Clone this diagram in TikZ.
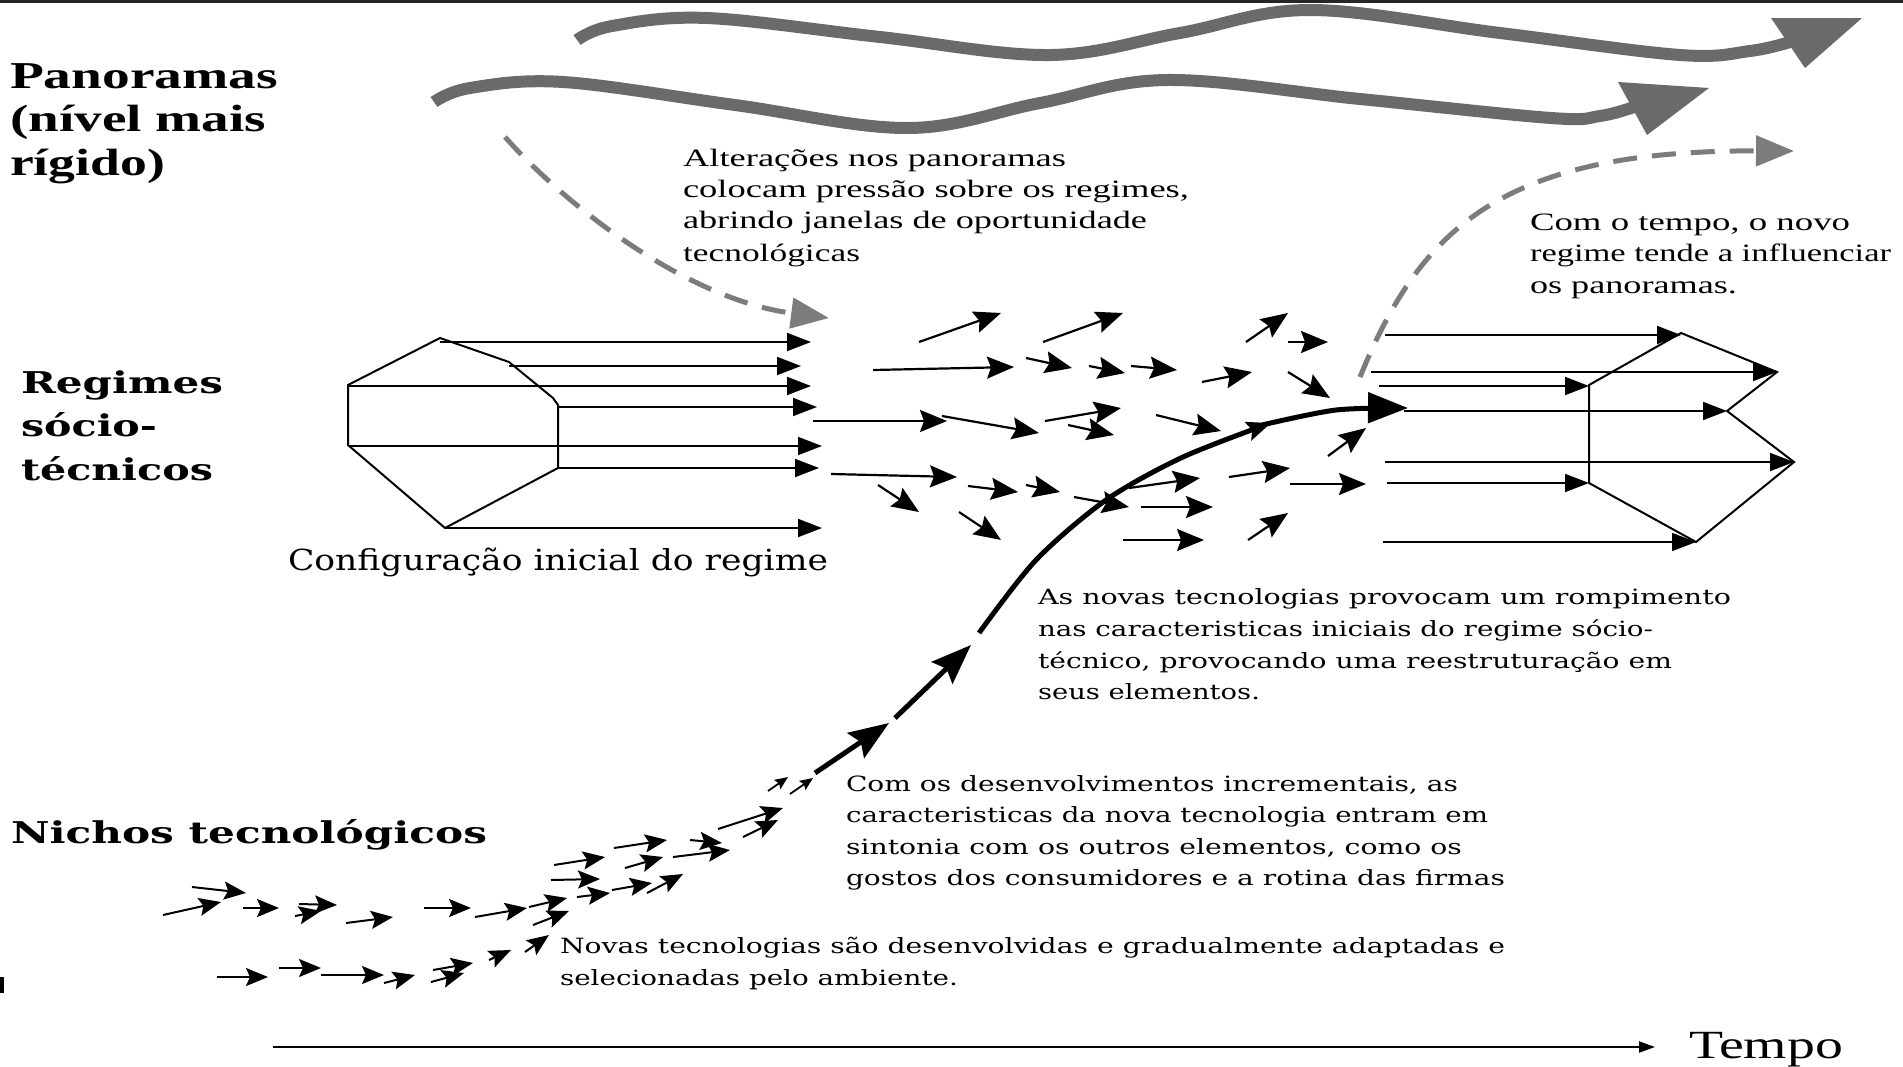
\documentclass[tikz,border=0pt]{standalone}
\usepackage{fontspec}
\usepackage{graphicx}
\setmainfont{Liberation Serif}
\newfontfamily\tmfont{Liberation Serif}
\newfontfamily\bkfont{DejaVu Serif}
\usetikzlibrary{arrows.meta}
\definecolor{wavegray}{HTML}{6A6A6A}
\definecolor{dashgray}{HTML}{7C7C7C}
\definecolor{linegray}{HTML}{2E2E2E}
\newcommand{\fitw}[2]{\resizebox{#1pt}{\height}{#2}}
\begin{document}
\begin{tikzpicture}[x=1pt,y=-1pt,
  txt/.style={anchor=base west, inner sep=0pt, outer sep=0pt},
  headA/.style={txt, font=\tmfont\fontsize{38}{39}\selectfont\bfseries},
  headB/.style={txt, font=\bkfont\fontsize{30}{32}\selectfont\bfseries},
  tms/.style={txt, font=\tmfont\fontsize{25}{27}\selectfont},
  bk/.style={txt, font=\bkfont\fontsize{21}{23}\selectfont},
  wave/.style={line width=12pt, draw=wavegray},
  gdash/.style={line width=5pt, draw=dashgray, dash pattern=on 24pt off 15pt, -{Triangle[length=38pt,width=30pt]}, dashgray},
  parrow/.style={line width=1.8pt, draw=linegray, -{Triangle[length=24pt,width=18pt]}, black},
  poly/.style={line width=2pt, draw=black, line join=miter},
  farrow/.style={line width=2.2pt, draw=black, -{Stealth[length=27pt,width=22pt,inset=4pt]}},
  narrow/.style={line width=2pt, draw=black, -{Stealth[length=22pt,width=18pt,inset=4pt]}},
  sarrow/.style={line width=1.8pt, draw=black, -{Stealth[length=13pt,width=11pt,inset=2pt]}},
  scurve/.style={line width=5pt, draw=black}
]
\useasboundingbox (0,0) rectangle (1903,1066);
\fill[white] (0,0) rectangle (1903,1066);

% top border and left mark
\draw[line width=3pt, black!85] (0,1.5) -- (1903,1.5);
\fill[black] (0,977) rectangle (4,993);

% ---------- landscape waves ----------
\draw[wave] plot[smooth, tension=0.6] coordinates {(577,40) (612,26) (707,18) (880,37) (1050,55) (1180,33) (1310,10) (1500,33) (1680,55) (1750,51) (1790,42)};
\fill[wavegray] (1771,18) -- (1862,18) -- (1805,68) -- cycle;
\draw[wave] plot[smooth, tension=0.6] coordinates {(434,102) (470,88) (563,82) (735,105) (908,128) (1040,103) (1167,80) (1360,99) (1551,118) (1600,116) (1634,107)};
\fill[wavegray] (1618,82) -- (1709,88) -- (1647,135) -- cycle;

% ---------- dashed pressure arrows ----------
\coordinate (dl0) at (505,137);
\coordinate (dl1) at (829,318);
\draw[gdash] (dl0) .. controls (570,210) and (690,300) .. (dl1);
\coordinate (dr0) at (1360,377);
\coordinate (dr1) at (1794,151);
\draw[gdash] (dr0) .. controls (1420,230) and (1500,150) .. (dr1);

% ---------- initial regime polygon ----------
\draw[poly] (440,338) -- (509,362) -- (553,398) -- (558,405) -- (558,468) -- (445,528) -- (348,445) -- (348,385) -- cycle;
\draw[parrow] (440,342) -- (811,342);
\draw[parrow] (509,366) -- (801,366);
\draw[parrow] (348,386) -- (811,386);
\draw[parrow] (558,407) -- (817,407);
\draw[parrow] (348,446) -- (822,446);
\draw[parrow] (558,468) -- (819,468);
\draw[parrow] (445,528) -- (822,528);

% ---------- new regime polygon ----------
\draw[poly] (1589,385) -- (1681,333) -- (1777,372) -- (1727,411) -- (1794,462) -- (1696,542) -- (1589,483) -- cycle;
\draw[parrow] (1385,335) -- (1681,335);
\draw[parrow] (1371,372) -- (1777,372);
\draw[parrow] (1379,386) -- (1589,386);
\draw[parrow] (1404,411) -- (1727,411);
\draw[parrow] (1385,462) -- (1794,462);
\draw[parrow] (1387,483) -- (1589,483);
\draw[parrow] (1383,542) -- (1696,542);

% ---------- field arrows in the regime ----------
\foreach \a/\b/\c/\d in {
  919/342/1001/313, 1043/342/1123/313, 873/370/1014/367, 1026/358/1072/368,
  1089/366/1125/373, 1131/366/1177/370, 1202/382/1252/372, 1246/342/1288/313,
  1288/342/1328/342, 1288/372/1330/398, 813/421/947/421, 942/416/1039/433,
  1045/421/1121/408, 1068/425/1114/435, 1156/415/1221/431, 1328/456/1366/428,
  831/474/957/477, 878/485/919/512, 968/486/1018/492, 1026/485/1060/492,
  1074/497/1129/507, 1129/488/1200/478, 1141/507/1213/507, 1229/477/1290/468,
  1290/484/1366/484, 959/512/1001/540, 1123/540/1204/540, 1248/540/1288/513}
  \draw[farrow] (\a,\b) -- (\c,\d);

% ---------- niche arrows ----------
\foreach \a/\b/\c/\d in {
  192/887/246/893, 163/915/221/902, 243/908/279/908, 299/904/337/905,
  295/916/321/911, 346/923/393/917, 424/908/471/908, 475/917/527/908,
  529/907/567/898, 533/925/569/911, 554/865/605/857, 551/880/600/879,
  577/897/610/893, 612/890/652/883, 614/848/667/840, 625/868/663/857,
  647/893/683/874, 673/857/730/850, 690/840/722/843, 718/829/783/808,
  743/837/778/820,
  217/977/268/977, 279/968/321/968, 321/975/384/975, 384/983/415/975,
  433/970/473/963, 431/982/464/973, 489/960/511/950, 525/952/549/935}
  \draw[narrow] (\a,\b) -- (\c,\d);
\draw[sarrow] (768,791) -- (788,777);
\draw[sarrow] (790,794) -- (813,778);

% ---------- main trajectory ----------
\draw[scurve, -{Stealth[length=40pt,width=30pt,inset=6pt]}] (815,773) -- (889,723);
\draw[scurve, -{Stealth[length=40pt,width=30pt,inset=6pt]}] (895,718) -- (971,645);
\draw[scurve, -{Stealth[length=24pt,width=19pt,inset=4pt]}] plot[smooth] coordinates {(979,633) (1036,560) (1106,500) (1183,457) (1271,423)};
\draw[scurve, -{Triangle[length=40pt,width=30pt]}] plot[smooth] coordinates {(1262,425) (1336,410) (1408,408)};

% ---------- time axis ----------
\coordinate (t0) at (273,1047);
\coordinate (t1) at (1655,1047);
\draw[line width=2pt, draw=black!75, -{Triangle[length=16pt,width=11pt]}, black] (t0) -- (t1);

% ---------- texts ----------
\node[headA] (pan1) at (10,88) {\fitw{268}{Panoramas}};
\node[headA] (pan2) at (10,131) {\fitw{256}{(nível mais}};
\node[headA] (pan3) at (10,175) {\fitw{155}{rígido)}};

\node[headB] (reg1) at (21,393) {\fitw{202}{Regimes}};
\node[headB] (reg2) at (21,436) {\fitw{136}{sócio-}};
\node[headB] (reg3) at (21,480) {\fitw{192}{técnicos}};

\node[headB] (nic) at (11,843) {\fitw{476}{Nichos tecnológicos}};

\node[txt, font=\bkfont\fontsize{29}{31}\selectfont] (conf) at (288,570) {\fitw{540}{Configuração inicial do regime}};

\node[tms] (alt1) at (683,166) {\fitw{383}{Alterações nos panoramas}};
\node[tms] (alt2) at (683,197) {\fitw{506}{colocam pressão sobre os regimes,}};
\node[tms] (alt3) at (683,228) {\fitw{464}{abrindo janelas de oportunidade}};
\node[tms] (alt4) at (683,261) {\fitw{177}{tecnológicas}};

\node[tms] (ct1) at (1530,230) {\fitw{320}{Com o tempo, o novo}};
\node[tms] (ct2) at (1530,261) {\fitw{361}{regime tende a influenciar}};
\node[tms] (ct3) at (1530,293) {\fitw{207}{os panoramas.}};

\node[bk] (an1) at (1038,604) {\fitw{693}{As novas tecnologias provocam um rompimento}};
\node[bk] (an2) at (1038,636) {\fitw{615}{nas caracteristicas iniciais do regime sócio-}};
\node[bk] (an3) at (1038,668) {\fitw{634}{técnico, provocando uma reestruturação em}};
\node[bk] (an4) at (1038,699) {\fitw{222}{seus elementos.}};

\node[bk] (cd1) at (846,791) {\fitw{612}{Com os desenvolvimentos incrementais, as}};
\node[bk] (cd2) at (846,822) {\fitw{642}{caracteristicas da nova tecnologia entram em}};
\node[bk] (cd3) at (846,854) {\fitw{616}{sintonia com os outros elementos, como os}};
\node[bk] (cd4) at (846,885) {\fitw{659}{gostos dos consumidores e a rotina das firmas}};

\node[bk] (nt1) at (560,953) {\fitw{945}{Novas tecnologias são desenvolvidas e gradualmente adaptadas e}};
\node[bk] (nt2) at (560,985) {\fitw{398}{selecionadas pelo ambiente.}};

\node[txt, font=\tmfont\fontsize{40}{42}\selectfont] (tempo) at (1689,1058) {\fitw{154}{Tempo}};
\end{tikzpicture}
\end{document}
